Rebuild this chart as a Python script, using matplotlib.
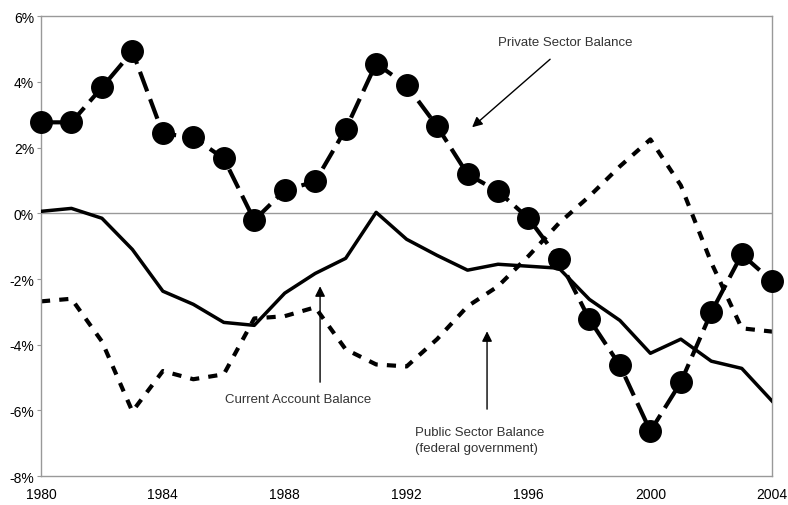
import numpy as np
import matplotlib.pyplot as plt

plt.rcParams['font.family'] = ['Liberation Sans', 'DejaVu Sans']

# Balances as % of GDP
years = np.arange(1980, 2005)
private_sector = [2.77, 2.77, 3.83, 4.93, 2.43, 2.31, 1.67, -0.21, 0.70, 0.97,
                  2.56, 4.56, 3.90, 2.65, 1.19, 0.67, -0.15, -1.40, -3.23, -4.63,
                  -6.63, -5.14, -3.01, -1.25, -2.07]
current_account = [0.06, 0.15, -0.15, -1.10, -2.37, -2.77, -3.32, -3.41, -2.43, -1.83,
                   -1.37, 0.03, -0.79, -1.28, -1.73, -1.55, -1.61, -1.67, -2.62, -3.26,
                   -4.26, -3.83, -4.50, -4.72, -5.72]
public_sector = [-2.68, -2.60, -3.90, -6.03, -4.80, -5.05, -4.90, -3.20, -3.13, -2.86,
                 -4.14, -4.60, -4.66, -3.83, -2.83, -2.22, -1.30, -0.30, 0.52, 1.43,
                 2.25, 0.85, -1.50, -3.50, -3.60]

x_ticks = [1980, 1984, 1988, 1992, 1996, 2000, 2004]
y_ticks = [-8, -6, -4, -2, 0, 2, 4, 6]

fig = plt.figure(figsize=(7.88, 5.06), dpi=100)
ax = fig.add_axes([0.052, 0.057, 0.928, 0.909])

ax.axhline(0, color='#999999', linewidth=1, zorder=1)

ax.plot(years, public_sector, color='black', linewidth=3,
        linestyle=(0, (2.2, 2.2)), zorder=2)
ax.plot(years, current_account, color='black', linewidth=2.5, zorder=3)
ax.plot(years, private_sector, color='black', linewidth=3,
        linestyle=(0, (5, 2)), marker='o', markersize=15.5, zorder=4,
        clip_on=False)

# annotations
arrow = dict(arrowstyle='-|>', color='black', lw=1, mutation_scale=15,
             shrinkA=0, shrinkB=0)
ax.text(1997.2, 5.23, 'Private Sector Balance', ha='center', va='center',
        fontsize=9.5, color='#333333')
ax.annotate('', xy=(1994.15, 2.62), xytext=(1996.71, 4.69), arrowprops=arrow)
ax.text(1988.44, -5.66, 'Current Account Balance', ha='center', va='center',
        fontsize=9.5, color='#333333')
ax.annotate('', xy=(1989.16, -2.22), xytext=(1989.16, -5.14), arrowprops=arrow)
ax.text(1992.28, -6.9, 'Public Sector Balance\n(federal government)',
        ha='left', va='center', fontsize=9.5, color='#333333', linespacing=1.4)
ax.annotate('', xy=(1994.64, -3.59), xytext=(1994.64, -5.96), arrowprops=arrow)

ax.set_xlim(1980, 2004)
ax.set_ylim(-8, 6)
ax.set_xticks(x_ticks)
ax.set_yticks(y_ticks)
ax.set_yticklabels([f'{v}%' for v in y_ticks])
ax.tick_params(axis='x', length=0, pad=8, labelsize=10)
ax.tick_params(axis='y', length=3, color='#999999', pad=2, labelsize=10)
for s in ax.spines.values():
    s.set_color('#999999')
    s.set_linewidth(1)

fig.savefig('out.png', dpi=100)
